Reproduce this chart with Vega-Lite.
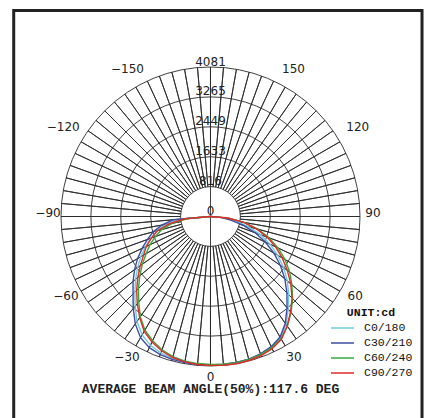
{
  "$schema": "https://vega.github.io/schema/vega-lite/v6.json",
  "width": 431,
  "height": 418,
  "padding": 0,
  "autosize": {"type": "none"},
  "background": "white",
  "view": {"stroke": null},
  "config": {"font": "DejaVu Sans"},
  "datasets": {
    "curves": [
      {"c": "C0/180", "a": -90, "cd": 0}, {"c": "C0/180", "a": -85, "cd": 850}, {"c": "C0/180", "a": -80, "cd": 1230}, {"c": "C0/180", "a": -75, "cd": 1520}, {"c": "C0/180", "a": -70, "cd": 1730}, {"c": "C0/180", "a": -65, "cd": 1960}, {"c": "C0/180", "a": -60, "cd": 2200}, {"c": "C0/180", "a": -55, "cd": 2430}, {"c": "C0/180", "a": -50, "cd": 2670}, {"c": "C0/180", "a": -45, "cd": 2920}, {"c": "C0/180", "a": -40, "cd": 3200}, {"c": "C0/180", "a": -35, "cd": 3500}, {"c": "C0/180", "a": -30, "cd": 3730}, {"c": "C0/180", "a": -25, "cd": 3880}, {"c": "C0/180", "a": -20, "cd": 3960}, {"c": "C0/180", "a": -15, "cd": 4010}, {"c": "C0/180", "a": -10, "cd": 4040}, {"c": "C0/180", "a": -5, "cd": 4050}, {"c": "C0/180", "a": 0, "cd": 4050}, {"c": "C0/180", "a": 5, "cd": 4055}, {"c": "C0/180", "a": 10, "cd": 4050}, {"c": "C0/180", "a": 15, "cd": 4035}, {"c": "C0/180", "a": 20, "cd": 4000}, {"c": "C0/180", "a": 25, "cd": 3940}, {"c": "C0/180", "a": 30, "cd": 3820}, {"c": "C0/180", "a": 35, "cd": 3600}, {"c": "C0/180", "a": 40, "cd": 3300}, {"c": "C0/180", "a": 45, "cd": 3020}, {"c": "C0/180", "a": 50, "cd": 2740}, {"c": "C0/180", "a": 55, "cd": 2440}, {"c": "C0/180", "a": 60, "cd": 2120}, {"c": "C0/180", "a": 65, "cd": 1800}, {"c": "C0/180", "a": 70, "cd": 1450}, {"c": "C0/180", "a": 75, "cd": 1080}, {"c": "C0/180", "a": 80, "cd": 700}, {"c": "C0/180", "a": 85, "cd": 350}, {"c": "C0/180", "a": 90, "cd": 0},
      {"c": "C30/210", "a": -90, "cd": 0}, {"c": "C30/210", "a": -85, "cd": 1020}, {"c": "C30/210", "a": -80, "cd": 1350}, {"c": "C30/210", "a": -75, "cd": 1620}, {"c": "C30/210", "a": -70, "cd": 1830}, {"c": "C30/210", "a": -65, "cd": 2060}, {"c": "C30/210", "a": -60, "cd": 2300}, {"c": "C30/210", "a": -55, "cd": 2530}, {"c": "C30/210", "a": -50, "cd": 2760}, {"c": "C30/210", "a": -45, "cd": 2990}, {"c": "C30/210", "a": -40, "cd": 3280}, {"c": "C30/210", "a": -35, "cd": 3580}, {"c": "C30/210", "a": -30, "cd": 3820}, {"c": "C30/210", "a": -25, "cd": 3950}, {"c": "C30/210", "a": -20, "cd": 4010}, {"c": "C30/210", "a": -15, "cd": 4040}, {"c": "C30/210", "a": -10, "cd": 4050}, {"c": "C30/210", "a": -5, "cd": 4055}, {"c": "C30/210", "a": 0, "cd": 4050}, {"c": "C30/210", "a": 5, "cd": 4050}, {"c": "C30/210", "a": 10, "cd": 4045}, {"c": "C30/210", "a": 15, "cd": 4030}, {"c": "C30/210", "a": 20, "cd": 3990}, {"c": "C30/210", "a": 25, "cd": 3920}, {"c": "C30/210", "a": 30, "cd": 3800}, {"c": "C30/210", "a": 35, "cd": 3560}, {"c": "C30/210", "a": 40, "cd": 3250}, {"c": "C30/210", "a": 45, "cd": 2950}, {"c": "C30/210", "a": 50, "cd": 2650}, {"c": "C30/210", "a": 55, "cd": 2330}, {"c": "C30/210", "a": 60, "cd": 2000}, {"c": "C30/210", "a": 65, "cd": 1650}, {"c": "C30/210", "a": 70, "cd": 1300}, {"c": "C30/210", "a": 75, "cd": 920}, {"c": "C30/210", "a": 80, "cd": 560}, {"c": "C30/210", "a": 85, "cd": 280}, {"c": "C30/210", "a": 90, "cd": 0},
      {"c": "C60/240", "a": -90, "cd": 0}, {"c": "C60/240", "a": -85, "cd": 620}, {"c": "C60/240", "a": -80, "cd": 1050}, {"c": "C60/240", "a": -75, "cd": 1380}, {"c": "C60/240", "a": -70, "cd": 1600}, {"c": "C60/240", "a": -65, "cd": 1820}, {"c": "C60/240", "a": -60, "cd": 2030}, {"c": "C60/240", "a": -55, "cd": 2270}, {"c": "C60/240", "a": -50, "cd": 2520}, {"c": "C60/240", "a": -45, "cd": 2780}, {"c": "C60/240", "a": -40, "cd": 3050}, {"c": "C60/240", "a": -35, "cd": 3340}, {"c": "C60/240", "a": -30, "cd": 3580}, {"c": "C60/240", "a": -25, "cd": 3740}, {"c": "C60/240", "a": -20, "cd": 3870}, {"c": "C60/240", "a": -15, "cd": 3960}, {"c": "C60/240", "a": -10, "cd": 4010}, {"c": "C60/240", "a": -5, "cd": 4030}, {"c": "C60/240", "a": 0, "cd": 4040}, {"c": "C60/240", "a": 5, "cd": 4050}, {"c": "C60/240", "a": 10, "cd": 4050}, {"c": "C60/240", "a": 15, "cd": 4040}, {"c": "C60/240", "a": 20, "cd": 4010}, {"c": "C60/240", "a": 25, "cd": 3950}, {"c": "C60/240", "a": 30, "cd": 3850}, {"c": "C60/240", "a": 35, "cd": 3660}, {"c": "C60/240", "a": 40, "cd": 3420}, {"c": "C60/240", "a": 45, "cd": 3170}, {"c": "C60/240", "a": 50, "cd": 2900}, {"c": "C60/240", "a": 55, "cd": 2640}, {"c": "C60/240", "a": 60, "cd": 2350}, {"c": "C60/240", "a": 65, "cd": 2040}, {"c": "C60/240", "a": 70, "cd": 1700}, {"c": "C60/240", "a": 75, "cd": 1340}, {"c": "C60/240", "a": 80, "cd": 950}, {"c": "C60/240", "a": 85, "cd": 500}, {"c": "C60/240", "a": 90, "cd": 0},
      {"c": "C90/270", "a": -90, "cd": 0}, {"c": "C90/270", "a": -85, "cd": 700}, {"c": "C90/270", "a": -80, "cd": 1150}, {"c": "C90/270", "a": -75, "cd": 1500}, {"c": "C90/270", "a": -70, "cd": 1720}, {"c": "C90/270", "a": -65, "cd": 1930}, {"c": "C90/270", "a": -60, "cd": 2110}, {"c": "C90/270", "a": -55, "cd": 2340}, {"c": "C90/270", "a": -50, "cd": 2590}, {"c": "C90/270", "a": -45, "cd": 2850}, {"c": "C90/270", "a": -40, "cd": 3110}, {"c": "C90/270", "a": -35, "cd": 3370}, {"c": "C90/270", "a": -30, "cd": 3620}, {"c": "C90/270", "a": -25, "cd": 3780}, {"c": "C90/270", "a": -20, "cd": 3900}, {"c": "C90/270", "a": -15, "cd": 3985}, {"c": "C90/270", "a": -10, "cd": 4030}, {"c": "C90/270", "a": -5, "cd": 4055}, {"c": "C90/270", "a": 0, "cd": 4065}, {"c": "C90/270", "a": 5, "cd": 4075}, {"c": "C90/270", "a": 10, "cd": 4081}, {"c": "C90/270", "a": 15, "cd": 4070}, {"c": "C90/270", "a": 20, "cd": 4040}, {"c": "C90/270", "a": 25, "cd": 3980}, {"c": "C90/270", "a": 30, "cd": 3870}, {"c": "C90/270", "a": 35, "cd": 3650}, {"c": "C90/270", "a": 40, "cd": 3400}, {"c": "C90/270", "a": 45, "cd": 3150}, {"c": "C90/270", "a": 50, "cd": 2860}, {"c": "C90/270", "a": 55, "cd": 2560}, {"c": "C90/270", "a": 60, "cd": 2260}, {"c": "C90/270", "a": 65, "cd": 1960}, {"c": "C90/270", "a": 70, "cd": 1650}, {"c": "C90/270", "a": 75, "cd": 1300}, {"c": "C90/270", "a": 80, "cd": 920}, {"c": "C90/270", "a": 85, "cd": 480}, {"c": "C90/270", "a": 90, "cd": 0}
    ],
    "spokes": [
      {"a": -180}, {"a": -175}, {"a": -170}, {"a": -165}, {"a": -160}, {"a": -155}, {"a": -150}, {"a": -145}, {"a": -140}, {"a": -135}, {"a": -130}, {"a": -125}, {"a": -120}, {"a": -115}, {"a": -110}, {"a": -105}, {"a": -100}, {"a": -95}, {"a": -90}, {"a": -85}, {"a": -80}, {"a": -75}, {"a": -70}, {"a": -65}, {"a": -60}, {"a": -55}, {"a": -50}, {"a": -45}, {"a": -40}, {"a": -35}, {"a": -30}, {"a": -25}, {"a": -20}, {"a": -15}, {"a": -10}, {"a": -5}, {"a": 0}, {"a": 5}, {"a": 10}, {"a": 15}, {"a": 20}, {"a": 25}, {"a": 30}, {"a": 35}, {"a": 40}, {"a": 45}, {"a": 50}, {"a": 55}, {"a": 60}, {"a": 65}, {"a": 70}, {"a": 75}, {"a": 80}, {"a": 85}, {"a": 90}, {"a": 95}, {"a": 100}, {"a": 105}, {"a": 110}, {"a": 115}, {"a": 120}, {"a": 125}, {"a": 130}, {"a": 135}, {"a": 140}, {"a": 145}, {"a": 150}, {"a": 155}, {"a": 160}, {"a": 165}, {"a": 170}, {"a": 175}
    ],
    "rings": [{"r": 816}, {"r": 1633}, {"r": 2449}, {"r": 3265}, {"r": 4081}],
    "ringLabels": [{"r": 0}, {"r": 816}, {"r": 1633}, {"r": 2449}, {"r": 3265}, {"r": 4081}],
    "labelsZero": [{"a": 0, "t": "0"}],
    "labels3060": [{"a": 30, "t": "30"}, {"a": -30, "t": "−30"}, {"a": 60, "t": "60"}, {"a": -60, "t": "−60"}],
    "labels90": [{"a": 90, "t": "90"}, {"a": -90, "t": "−90"}],
    "labels120": [{"a": 120, "t": "120"}, {"a": -120, "t": "−120"}],
    "labels150": [{"a": 150, "t": "150"}, {"a": -150, "t": "−150"}]
  },
  "layer": [
    {
      "data": {"name": "rings"},
      "mark": {"type": "arc", "theta": 0, "theta2": 6.2832, "filled": false, "stroke": "#2a2a2a", "strokeWidth": 0.9},
      "encoding": {
        "x": {"datum": 0, "type": "quantitative", "scale": {"domain": [-5746.2, 6019.2], "nice": false, "zero": false}, "axis": null},
        "y": {"datum": 0, "type": "quantitative", "scale": {"domain": [-5500.5, 5910.0], "nice": false, "zero": false}, "axis": null},
        "radius": {"field": "r", "type": "quantitative", "stack": null, "scale": {"type": "linear", "domain": [0, 4081], "range": [0, 149.5], "zero": true}, "legend": null}
      }
    },
    {
      "data": {"name": "spokes"},
      "mark": {"type": "arc", "filled": false, "stroke": "#2a2a2a", "strokeWidth": 0.9},
      "encoding": {
        "x": {"datum": 0, "type": "quantitative"},
        "y": {"datum": 0, "type": "quantitative"},
        "theta": {"field": "a", "type": "quantitative", "stack": null, "scale": {"domain": [-180, 180], "range": [6.283185, 0]}},
        "theta2": {"field": "a"},
        "radius": {"datum": 4081, "type": "quantitative", "stack": null},
        "radius2": {"datum": 816}
      }
    },
    {
      "data": {"values": [{}]},
      "mark": {"type": "rule", "stroke": "#2a2a2a", "strokeWidth": 0.9},
      "encoding": {
        "x": {"datum": 0, "type": "quantitative"},
        "y": {"datum": -4081, "type": "quantitative"},
        "y2": {"datum": 4081}
      }
    },
    {
      "data": {"name": "curves"},
      "transform": [
        {"calculate": "datum.cd * sin(datum.a * PI / 180)", "as": "px"},
        {"calculate": "-datum.cd * cos(datum.a * PI / 180)", "as": "py"}
      ],
      "mark": {"type": "line", "strokeWidth": 1.4},
      "encoding": {
        "x": {"field": "px", "type": "quantitative"},
        "y": {"field": "py", "type": "quantitative"},
        "order": {"field": "a", "type": "quantitative"},
        "color": {
          "field": "c", "type": "nominal",
          "scale": {"domain": ["C0/180", "C30/210", "C60/240", "C90/270"], "range": ["#6fcbdc", "#3d4ea3", "#3aa83a", "#e22a2a"]},
          "legend": {
            "title": "UNIT:cd", "orient": "none", "legendX": 330, "legendY": 307,
            "titleFont": "Liberation Mono", "titleFontSize": 11.5, "titleFontWeight": "bold", "titleColor": "#111",
            "titleAnchor": "middle", "titlePadding": 3.2,
            "labelFont": "Liberation Mono", "labelFontSize": 11.5, "labelColor": "#111", "labelOffset": 9,
            "symbolType": "stroke", "symbolSize": 529, "symbolStrokeWidth": 1.3,
            "clipHeight": 12.6, "rowPadding": 2, "padding": 0
          }
        }
      }
    },
    {
      "data": {"name": "ringLabels"},
      "mark": {"type": "text", "font": "DejaVu Sans", "fontSize": 12, "align": "center", "baseline": "alphabetic", "dy": -1.5, "color": "#222"},
      "encoding": {
        "x": {"datum": 0, "type": "quantitative"},
        "y": {"field": "r", "type": "quantitative"},
        "text": {"field": "r", "type": "nominal"}
      }
    },
    {
      "data": {"name": "labelsZero"},
      "mark": {"type": "text", "font": "DejaVu Sans", "fontSize": 12, "align": "center", "baseline": "middle", "dy": -4, "color": "#222"},
      "encoding": {
        "x": {"datum": 0, "type": "quantitative"},
        "y": {"datum": 0, "type": "quantitative"},
        "theta": {"field": "a", "type": "quantitative", "stack": null},
        "radius": {"datum": 4477, "type": "quantitative", "stack": null},
        "text": {"field": "t", "type": "nominal"}
      }
    },
    {
      "data": {"name": "labels3060"},
      "mark": {"type": "text", "font": "DejaVu Sans", "fontSize": 12, "align": "center", "baseline": "middle", "dy": -4, "color": "#222"},
      "encoding": {
        "x": {"datum": 0, "type": "quantitative"},
        "y": {"datum": 0, "type": "quantitative"},
        "theta": {"field": "a", "type": "quantitative", "stack": null},
        "radius": {"datum": 4559, "type": "quantitative", "stack": null},
        "text": {"field": "t", "type": "nominal"}
      }
    },
    {
      "data": {"name": "labels90"},
      "mark": {"type": "text", "font": "DejaVu Sans", "fontSize": 12, "align": "center", "baseline": "middle", "dy": -4, "color": "#222"},
      "encoding": {
        "x": {"datum": 0, "type": "quantitative"},
        "y": {"datum": 0, "type": "quantitative"},
        "theta": {"field": "a", "type": "quantitative", "stack": null},
        "radius": {"datum": 4436, "type": "quantitative", "stack": null},
        "text": {"field": "t", "type": "nominal"}
      }
    },
    {
      "data": {"name": "labels120"},
      "mark": {"type": "text", "font": "DejaVu Sans", "fontSize": 12, "align": "center", "baseline": "middle", "dy": -4, "color": "#222"},
      "encoding": {
        "x": {"datum": 0, "type": "quantitative"},
        "y": {"datum": 0, "type": "quantitative"},
        "theta": {"field": "a", "type": "quantitative", "stack": null},
        "radius": {"datum": 4641, "type": "quantitative", "stack": null},
        "text": {"field": "t", "type": "nominal"}
      }
    },
    {
      "data": {"name": "labels150"},
      "mark": {"type": "text", "font": "DejaVu Sans", "fontSize": 12, "align": "center", "baseline": "middle", "dy": -4, "color": "#222"},
      "encoding": {
        "x": {"datum": 0, "type": "quantitative"},
        "y": {"datum": 0, "type": "quantitative"},
        "theta": {"field": "a", "type": "quantitative", "stack": null},
        "radius": {"datum": 4531, "type": "quantitative", "stack": null},
        "text": {"field": "t", "type": "nominal"}
      }
    },
    {
      "data": {"values": [{}]},
      "mark": {"type": "text", "font": "Liberation Mono", "fontSize": 13, "fontWeight": "bold", "align": "center", "baseline": "middle", "color": "#222"},
      "encoding": {
        "x": {"datum": 0, "type": "quantitative"},
        "y": {"datum": -4722, "type": "quantitative"},
        "text": {"value": "AVERAGE BEAM ANGLE(50%):117.6 DEG"}
      }
    },
    {
      "data": {"values": [{}]},
      "mark": {"type": "rect", "filled": false, "stroke": "#222", "strokeWidth": 3},
      "encoding": {
        "x": {"datum": -5372, "type": "quantitative"},
        "x2": {"datum": 5774},
        "y": {"datum": 5623, "type": "quantitative"},
        "y2": {"datum": -6200}
      }
    }
  ]
}
